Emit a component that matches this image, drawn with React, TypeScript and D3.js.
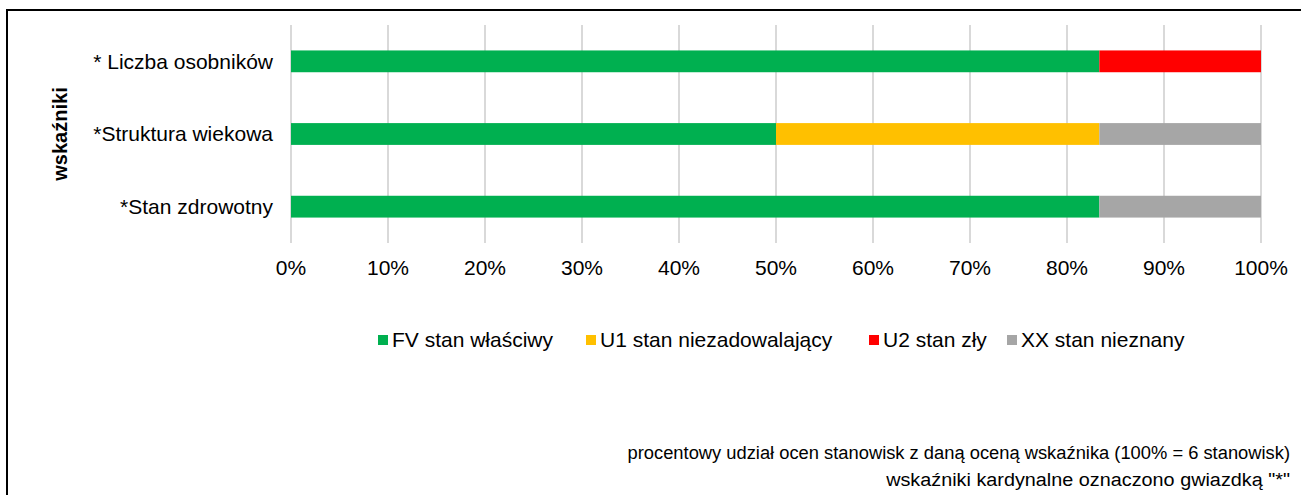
import React, { useRef, useEffect } from 'react';
import * as d3 from 'd3';

const categories = ['* Liczba osobników', '*Struktura wiekowa', '*Stan zdrowotny'];
const seriesNames = ['FV stan właściwy', 'U1 stan niezadowalający', 'U2 stan zły', 'XX stan nieznany'];
const seriesColors = ['#00b050', '#ffc000', '#ff0000', '#a6a6a6'];
// number of sites (out of 6) per category for each series
const fv = [5, 3, 5];
const u1 = [0, 2, 0];
const u2 = [1, 0, 0];
const xx = [0, 1, 1];
const tickValues = [0, 0.1, 0.2, 0.3, 0.4, 0.5, 0.6, 0.7, 0.8, 0.9, 1];
const totalSites = 6;
const footnotes = [
  'procentowy udział ocen stanowisk z daną oceną wskaźnika (100% = 6 stanowisk)',
  'wskaźniki kardynalne oznaczono gwiazdką "*"',
];

const App = () => {
  const ref = useRef<SVGSVGElement>(null);

  useEffect(() => {
    const svg = d3.select(ref.current);
    svg.selectAll('*').remove();

    const width = 1301, height = 495;
    const font = '"Liberation Sans", Arial, sans-serif';
    svg.attr('width', width).attr('height', height);

    svg.append('rect')
      .attr('x', 7).attr('y', 10)
      .attr('width', 1320).attr('height', 520)
      .attr('fill', '#fff')
      .attr('stroke', '#000')
      .attr('stroke-width', 2);

    const x = d3.scaleLinear().domain([0, 1]).range([291, 1261]);
    const y = d3.scaleBand().domain(categories).range([25, 243]).paddingInner(0.7).paddingOuter(0.35);

    // gridlines
    svg.append('g').selectAll('line')
      .data(tickValues)
      .enter().append('line')
      .attr('x1', (d) => x(d)).attr('x2', (d) => x(d))
      .attr('y1', 25).attr('y2', 243)
      .attr('stroke', '#d9d9d9')
      .attr('stroke-width', 2);

    const rows = categories.map((c, i) => ({ cat: c, fv: fv[i], u1: u1[i], u2: u2[i], xx: xx[i] }));
    const stack = d3.stack<any>().keys(['fv', 'u1', 'u2', 'xx'])
      .value((d, k) => d[k] / totalSites);
    const layers = stack(rows);

    const g = svg.append('g');
    layers.forEach((layer, li) => {
      g.append('g').attr('fill', seriesColors[li])
        .selectAll('rect')
        .data(layer)
        .enter().append('rect')
        .attr('x', (d) => x(d[0]))
        .attr('width', (d) => x(d[1]) - x(d[0]))
        .attr('y', (d: any) => y(d.data.cat)!)
        .attr('height', y.bandwidth());
    });

    // category labels
    svg.append('g').selectAll('text')
      .data(categories)
      .enter().append('text')
      .attr('x', 273)
      .attr('y', (d) => y(d)! + y.bandwidth() / 2)
      .attr('dy', '0.35em')
      .attr('text-anchor', 'end')
      .attr('font-family', font)
      .attr('font-size', 21)
      .attr('fill', '#000')
      .text((d) => d);

    // x tick labels
    svg.append('g').selectAll('text')
      .data(tickValues)
      .enter().append('text')
      .attr('x', (d) => x(d))
      .attr('y', 275)
      .attr('text-anchor', 'middle')
      .attr('font-family', font)
      .attr('font-size', 21)
      .attr('fill', '#000')
      .text((d) => d3.format('.0%')(d));

    // y axis title
    svg.append('text')
      .attr('transform', 'translate(67,134) rotate(-90)')
      .attr('text-anchor', 'middle')
      .attr('font-family', font)
      .attr('font-size', 20)
      .attr('font-weight', 'bold')
      .attr('fill', '#000')
      .text('wskaźniki');

    // legend
    const legendX = [378, 586, 869, 1007];
    const legend = svg.append('g').selectAll('g')
      .data(seriesNames)
      .enter().append('g')
      .attr('transform', (d, i) => `translate(${legendX[i]},340)`);
    legend.append('rect')
      .attr('x', 0).attr('y', -5)
      .attr('width', 10).attr('height', 10)
      .attr('fill', (d, i) => seriesColors[i]);
    legend.append('text')
      .attr('x', 14)
      .attr('dy', '0.35em')
      .attr('font-family', font)
      .attr('font-size', 21)
      .attr('fill', '#000')
      .text((d) => d);

    // footnotes (narrow font look: squeeze horizontally to the reference width)
    const noteWidths = [663, 404];
    const noteY = [459, 486];
    footnotes.forEach((t, i) => {
      const ng = svg.append('g');
      const txt = ng.append('text')
        .attr('x', 0).attr('y', 0)
        .attr('text-anchor', 'end')
        .attr('font-family', font)
        .attr('font-size', 19)
        .attr('fill', '#000')
        .text(t);
      const natural = (txt.node() as SVGTextElement).getComputedTextLength() || noteWidths[i];
      ng.attr('transform', `translate(1290,${noteY[i]}) scale(${noteWidths[i] / natural},1)`);
    });
  }, []);

  return <svg ref={ref} style={{ position: 'absolute', left: 0, top: 0 }}></svg>;
};

export default App;
